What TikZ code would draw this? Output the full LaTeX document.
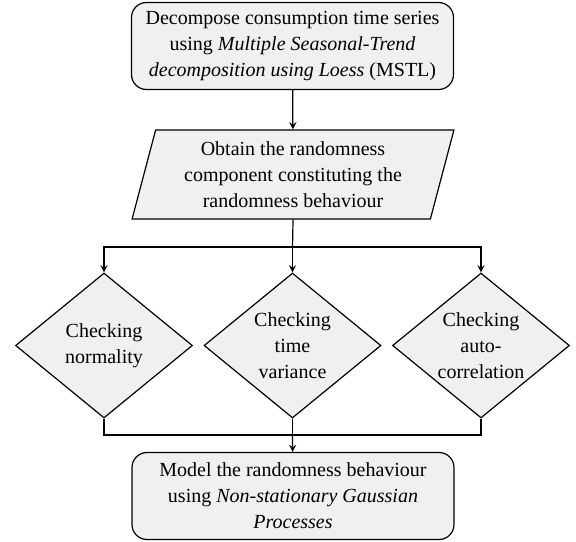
\documentclass[tikz,border=0pt]{standalone}
\usepackage{fontspec}
\setmainfont{Liberation Serif}
\usetikzlibrary{shapes.geometric}
\definecolor{boxgray}{RGB}{240,240,240}

\begin{document}
\begin{tikzpicture}[x=0.5pt, y=-0.5pt, >=stealth, line width=0.6pt,
  every node/.style={font=\fontsize{10}{13}\selectfont},
  box/.style={draw, rounded corners=7.5pt, align=center, fill=boxgray, minimum width=161pt, minimum height=43.5pt},
  slanted/.style={draw, trapezium, trapezium left angle=76, trapezium right angle=104, trapezium stretches=true, align=center, fill=boxgray, minimum width=161pt, minimum height=44.5pt},
  check/.style={draw, diamond, shape aspect=1.22, inner sep=0pt, align=center, fill=boxgray, minimum width=88.5pt, minimum height=72.5pt}]
\useasboundingbox (0,0) rectangle (576,541);
\node[box] (mstl) at (292.5,46) {Decompose consumption time series\\using \textit{Multiple Seasonal-Trend}\\\textit{decomposition using Loess} (MSTL)};
\node[slanted] (obtain) at (293,174.5) {Obtain the randomness\\component constituting the\\randomness behaviour};
\node[check] (normal) at (104,345.5) {Checking\\normality};
\node[check] (timevar) at (292.5,345.5) {Checking\\time\\variance};
\node[check] (autocorr) at (481,345.5) {Checking\\auto-\\correlation};
\node[box] (model) at (293,496) {Model the randomness behaviour\\using \textit{Non-stationary Gaussian}\\\textit{Processes}};
\coordinate (split) at (292.5,247);
\coordinate (merge) at (292.5,435);
\draw[->] (mstl) -- (obtain);
\draw (obtain.south) -- (split);
\draw[->] (split) -| (normal.north);
\draw[->] (split) -- (timevar.north);
\draw[->] (split) -| (autocorr.north);
\draw (normal.south) |- (merge);
\draw (autocorr.south) |- (merge);
\draw (timevar.south) -- (merge);
\draw[->] (merge) -- (model);
\end{tikzpicture}
\end{document}
